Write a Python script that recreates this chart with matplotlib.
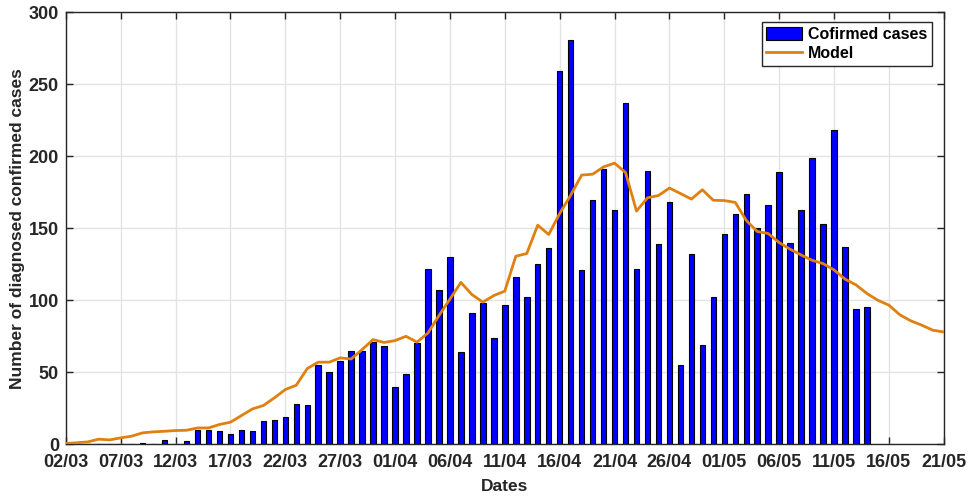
import matplotlib
matplotlib.use("Agg")
import matplotlib.pyplot as plt
import numpy as np

plt.rcParams['font.family'] = ['Liberation Sans', 'DejaVu Sans']
plt.rcParams['font.weight'] = 'bold'

tick_labels = ['02/03', '07/03', '12/03', '17/03', '22/03', '27/03', '01/04', '06/04',
               '11/04', '16/04', '21/04', '26/04', '01/05', '06/05', '11/05', '16/05', '21/05']

confirmed = [0, 0, 0, 0, 0, 0, 0, 1, 0, 3,
             0, 2, 10, 10, 9, 7, 10, 9, 16, 17,
             19, 28, 27, 55, 50, 58, 65, 65, 71, 68,
             40, 49, 70, 122, 107, 130, 64, 91, 98, 74,
             97, 116, 102, 125, 136, 259, 281, 121, 170, 191,
             163, 237, 122, 190, 139, 168, 55, 132, 69, 102,
             146, 160, 174, 150, 166, 189, 140, 163, 199, 153,
             218, 137, 94, 95]

model = [0.5, 1.0, 1.6, 3.5, 3.0, 4.4, 5.6, 7.9, 8.6, 9.0,
         9.5, 9.7, 11.3, 11.3, 13.7, 15.3, 19.9, 24.5, 26.9, 32.2,
         38.0, 41.0, 52.6, 57.0, 57.0, 60.0, 59.2, 65.8, 72.7, 70.7,
         72.0, 75.0, 70.9, 77.3, 89.4, 100.8, 112.4, 104.0, 98.7, 103.3,
         106.4, 130.6, 132.5, 152.2, 145.7, 160.3, 173.0, 187.0, 187.6, 192.7,
         195.3, 188.8, 162.0, 171.2, 172.8, 178.0, 174.2, 170.3, 176.8, 169.5,
         169.3, 168.0, 155.5, 147.8, 146.4, 140.1, 135.5, 131.5, 127.8, 125.5,
         121.1, 114.7, 110.7, 104.7, 100.0, 96.6, 89.9, 85.7, 82.7, 79.2,
         78.0]

days_bar = np.arange(len(confirmed))
days_model = np.arange(len(model))

fig = plt.figure(figsize=(9.68, 4.98), dpi=100)
ax = fig.add_axes([0.068, 0.108, 0.907, 0.867])

bars = ax.bar(days_bar, confirmed, width=0.5, color='#0000FF', edgecolor='black',
              linewidth=0.8, label='Cofirmed cases', zorder=3)
line, = ax.plot(days_model, model, color='#E08010', linewidth=2.0, label='Model', zorder=4)

ax.set_xlim(0, 80)
ax.set_ylim(0, 300)
ax.set_xticks(np.arange(0, 81, 5))
ax.set_xticklabels(tick_labels)
ax.set_yticks(np.arange(0, 301, 50))

ax.grid(True, color='#E3E3E3', linewidth=1.0, zorder=0)
ax.set_axisbelow(True)
ax.tick_params(direction='in', length=5, width=1, top=True, right=True,
               labelsize=13, colors='#262626')
ax.tick_params(axis='x', pad=7)
ax.tick_params(axis='y', pad=5)
for lbl in ax.get_xticklabels() + ax.get_yticklabels():
    lbl.set_fontweight('bold')
for sp in ax.spines.values():
    sp.set_color('#262626')
    sp.set_linewidth(1.0)

ax.set_xlabel('Dates', fontsize=12.5, fontweight='bold', color='#262626', labelpad=6)
ax.set_ylabel('Number of diagnosed confirmed cases', fontsize=12.5, fontweight='bold',
              color='#262626', labelpad=2.5)

leg = ax.legend([bars, line], ['Cofirmed cases', 'Model'], loc='upper right',
                bbox_to_anchor=(0.9865, 0.977), fontsize=11.5,
                frameon=True, fancybox=False, framealpha=1, edgecolor='#262626',
                borderpad=0.3, handlelength=2.2, handleheight=0.9, handletextpad=0.4,
                labelspacing=0.25, borderaxespad=0)
leg.get_frame().set_linewidth(1.0)
for t in leg.get_texts():
    t.set_fontweight('bold')

fig.savefig('out.png', dpi=100)
